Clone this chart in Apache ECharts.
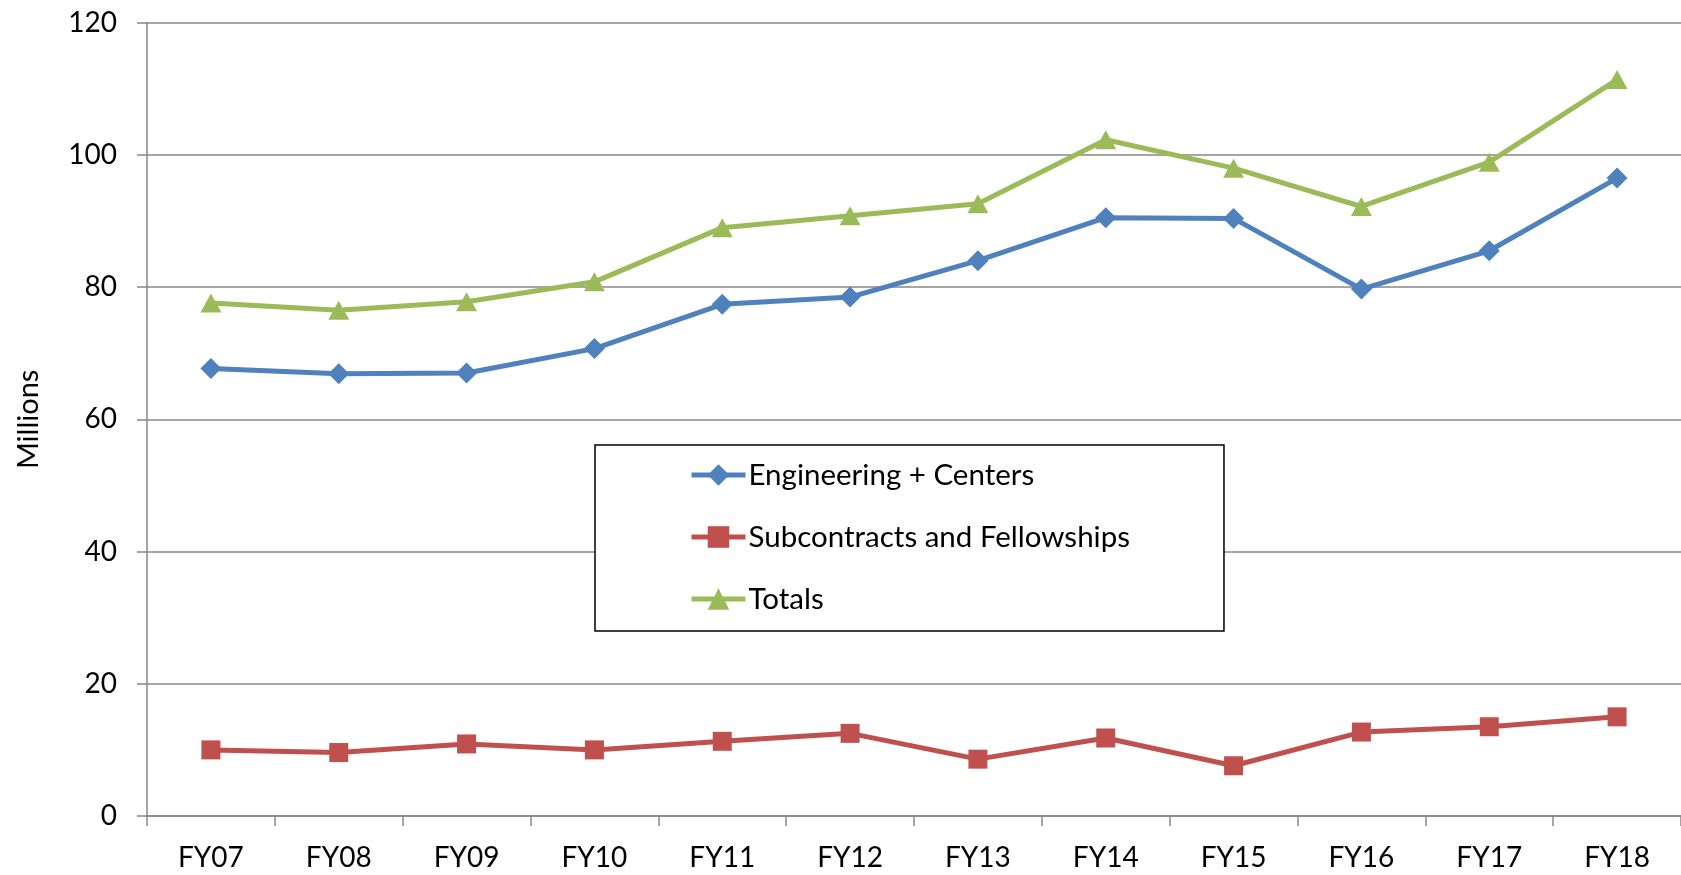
<!DOCTYPE html>
<html>
<head>
<meta charset="utf-8">
<script src="https://cdn.jsdelivr.net/npm/echarts@6/dist/echarts.min.js"></script>
<style>
html,body{margin:0;padding:0;background:#fff;}
#chart{width:1681px;height:875px;}
</style>
</head>
<body>
<div id="chart"></div>
<script>
const categories = ['FY07','FY08','FY09','FY10','FY11','FY12','FY13','FY14','FY15','FY16','FY17','FY18'];
const engineering = [67.7, 66.9, 67.0, 70.7, 77.4, 78.5, 84.0, 90.5, 90.4, 79.7, 85.5, 96.5];
const subcontracts = [10.0, 9.6, 10.9, 10.0, 11.3, 12.5, 8.6, 11.8, 7.6, 12.7, 13.5, 15.0];
const totals = [77.6, 76.5, 77.8, 80.8, 89.0, 90.8, 92.6, 102.3, 98.0, 92.2, 98.9, 111.4];
const yTicks = {min: 0, max: 120, interval: 20};
const seriesNames = ['Engineering + Centers', 'Subcontracts and Fellowships', 'Totals'];

const FONT = 'Lato';
const chart = echarts.init(document.getElementById('chart'));
const axisGray = '#878787';
chart.setOption({
  animation: false,
  backgroundColor: '#fff',
  textStyle: {fontFamily: FONT, color: '#000'},
  grid: {left: 147, right: 0, top: 22.7, bottom: 59, containLabel: false},
  xAxis: {
    type: 'category',
    data: categories,
    boundaryGap: true,
    axisLine: {lineStyle: {color: axisGray, width: 1.5}},
    axisTick: {show: true, length: 10, lineStyle: {color: axisGray, width: 1.5}},
    axisLabel: {color: '#000', fontSize: 28, fontFamily: FONT, margin: 28}
  },
  yAxis: {
    type: 'value',
    min: yTicks.min, max: yTicks.max, interval: yTicks.interval,
    name: 'Millions',
    nameLocation: 'middle',
    nameGap: 104,
    nameRotate: 90,
    nameTextStyle: {color: '#000', fontSize: 29, fontFamily: FONT},
    axisLine: {show: true, lineStyle: {color: axisGray, width: 1.5}},
    axisTick: {show: true, length: 10, lineStyle: {color: axisGray, width: 1.5}},
    axisLabel: {color: '#000', fontSize: 28, fontFamily: FONT, margin: 30},
    splitLine: {show: true, lineStyle: {color: axisGray, width: 1.5}}
  },
  legend: {
    show: true,
    orient: 'vertical',
    left: 595, top: 445,
    padding: [15, 94, 17, 94],
    itemWidth: 54, itemHeight: 27, itemGap: 32,
    backgroundColor: '#fff',
    borderColor: '#000', borderWidth: 1.5,
    lineStyle: {width: 5},
    textStyle: {color: '#000', fontSize: 29.5, lineHeight: 30, fontFamily: FONT, padding: [0,0,0,-2]},
    data: seriesNames
  },
  series: [
    {
      name: seriesNames[0], type: 'line', data: engineering,
      symbol: 'diamond', symbolSize: [21, 21],
      lineStyle: {color: '#4F81BD', width: 5},
      itemStyle: {color: '#4F81BD'}
    },
    {
      name: seriesNames[1], type: 'line', data: subcontracts,
      symbol: 'rect', symbolSize: [19, 19],
      lineStyle: {color: '#C0504D', width: 5},
      itemStyle: {color: '#C0504D'}
    },
    {
      name: seriesNames[2], type: 'line', data: totals,
      symbol: 'triangle', symbolSize: [21, 19],
      lineStyle: {color: '#9BBB59', width: 5},
      itemStyle: {color: '#9BBB59'}
    }
  ]
});
</script>
</body>
</html>
